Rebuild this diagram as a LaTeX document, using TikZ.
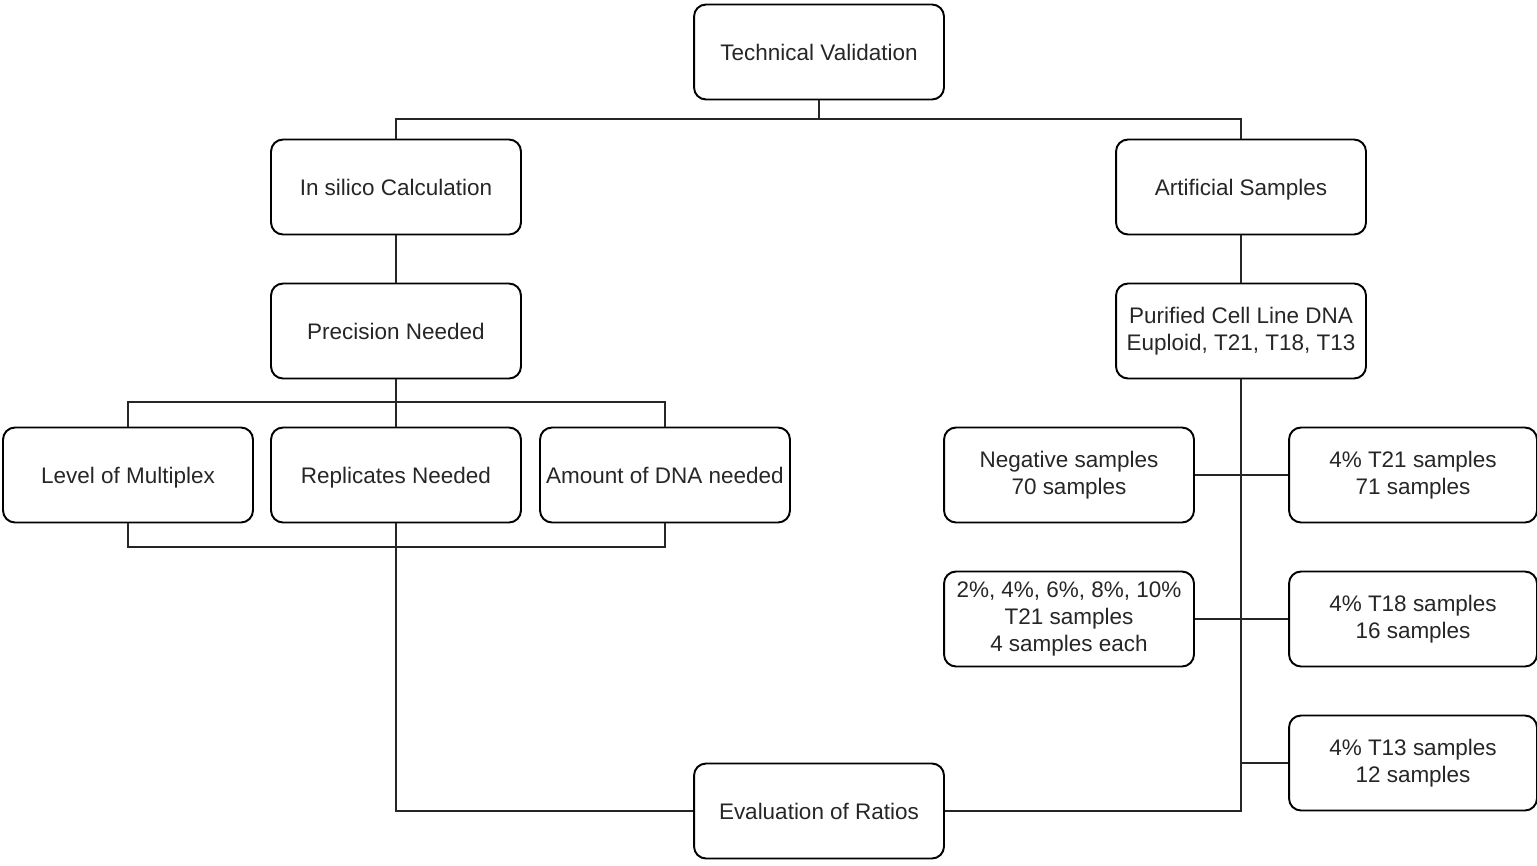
\documentclass[tikz,border=0pt]{standalone}
\usepackage{fontspec}
\setmainfont{Liberation Sans}
\usepackage{tikz}

\begin{document}
\begin{tikzpicture}[x=0.02cm,y=-0.02cm]
\tikzstyle{box}=[draw,rounded corners=0.24cm,line width=1.1pt,minimum width=5cm,minimum height=1.9cm,inner sep=1pt,align=center,font=\fontsize{12.8}{15.4}\selectfont,text=black!85]
\tikzstyle{one}=[text height=1.2em,text depth=0.2em]
\tikzstyle{link}=[line width=1.1pt,black!85]
\useasboundingbox (0,0) rectangle (1537,865);
\node[box,one] (tv) at (819,52) {Technical Validation};
\node[box,one] (silico) at (396,187) {In silico Calculation};
\node[box,one] (art) at (1241,187) {Artificial Samples};
\node[box,one] (prec) at (396,331) {Precision Needed};
\node[box] (dna) at (1241,331) {Purified Cell Line DNA\\Euploid, T21, T18, T13};
\node[box,one] (mult) at (128,475) {Level of Multiplex};
\node[box,one] (rep) at (396,475) {Replicates Needed};
\node[box,one] (amt) at (665,475) {Amount of DNA needed};
\node[box] (neg) at (1069,475) {Negative samples\\70 samples};
\node[box,minimum width=4.96cm] (t21) at (1413,475) {4\% T21 samples\\71 samples};
\node[box] (mix) at (1069,619) {2\%, 4\%, 6\%, 8\%, 10\%\\T21 samples\\4 samples each};
\node[box,minimum width=4.96cm] (t18) at (1413,619) {4\% T18 samples\\16 samples};
\node[box,minimum width=4.96cm] (t13) at (1413,763) {4\% T13 samples\\12 samples};
\node[box,one] (eval) at (819,811) {Evaluation of Ratios};
% top split
\draw[link] (tv.south) -- ++(0,19) -| (silico.north);
\draw[link] (tv.south) -- ++(0,19) -| (art.north);
\draw[link] (silico) -- (prec);
\draw[link] (art) -- (dna);
% precision branches
\draw[link] (prec.south) -- ++(0,23) -| (mult.north);
\draw[link] (prec.south) -- ++(0,23) -| (amt.north);
\draw[link] (prec.south) -- (rep.north);
\draw[link] (mult.south) -- ++(0,24) -| (amt.south);
\draw[link] (rep.south) |- (eval.west);
% sample branches
\draw[link] (dna.south) |- (eval.east);
\draw[link] (neg.east) -- (t21.west);
\draw[link] (mix.east) -- (t18.west);
\draw[link] (t13.west) -- (t13.west -| dna.south);
\end{tikzpicture}
\end{document}
